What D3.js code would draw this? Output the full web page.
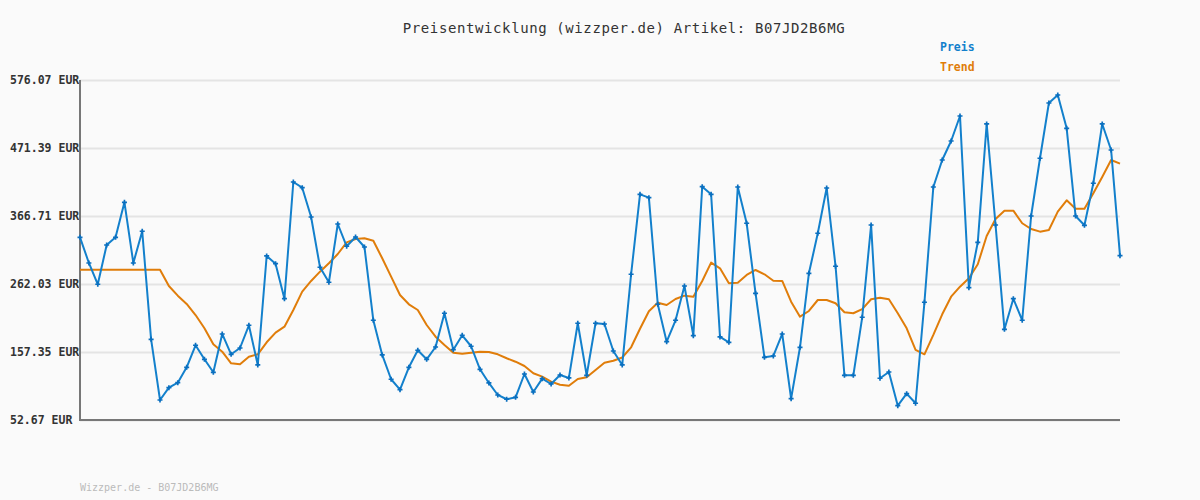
<!DOCTYPE html>
<html>
<head>
<meta charset="utf-8">
<script src="https://cdn.jsdelivr.net/npm/d3@7"></script>
<style>
  body { margin: 0; background: #fafafa; }
  svg { display: block; }
</style>
</head>
<body>
<div id="chart"></div>
<script>
const title = "Preisentwicklung (wizzper.de) Artikel: B07JD2B6MG";
const footer = "Wizzper.de - B07JD2B6MG";

// Preis (EUR), one value per sample
const preis = [
  333.9, 294.4, 261.6, 322.1, 333.9, 387.8, 294.4, 343.2, 176.9, 83.5,
  102.4, 110.1, 133.8, 167.7, 146.1, 126.1, 185.1, 153.8, 163.5, 198.5,
  137.4, 305.2, 293.3, 239.4, 419.1, 410.3, 365.2, 287.8, 264.7, 354.4,
  320.1, 334.4, 319.0, 206.2, 152.8, 115.4, 99.3, 133.8, 160.0, 146.1,
  165.1, 217.0, 160.9, 183.1, 166.2, 130.7, 109.7, 91.2, 84.6, 87.6,
  123.5, 95.8, 116.3, 108.1, 122.0, 117.4, 201.6, 121.5, 201.6, 200.5,
  158.9, 137.4, 277.0, 400.1, 394.9, 230.8, 173.2, 206.2, 259.0, 182.5,
  411.8, 400.1, 180.5, 172.3, 411.4, 355.5, 247.7, 149.2, 151.2, 185.1,
  85.5, 164.6, 278.5, 340.1, 409.8, 289.3, 121.5, 121.5, 210.8, 352.9,
  116.9, 126.6, 74.7, 93.2, 78.4, 233.9, 411.4, 452.9, 482.2, 520.7,
  256.4, 326.2, 508.4, 352.9, 192.3, 239.4, 206.2, 366.7, 455.6, 540.7,
  553.0, 501.7, 366.7, 352.4, 417.1, 508.4, 468.3, 305.6
];

// Trend (EUR)
const trend = [
  284.1, 284.1, 284.1, 284.1, 284.1, 284.1, 284.1, 284.1, 284.1, 284.1,
  259.0, 244.1, 231.3, 214.3, 193.9, 169.2, 157.8, 140.0, 138.4, 150.1,
  153.8, 172.3, 187.1, 196.3, 222.0, 250.2, 266.7, 281.0, 293.9, 308.2,
  326.2, 331.3, 332.4, 328.7, 301.6, 273.3, 245.1, 230.8, 222.0, 198.9,
  180.9, 168.2, 156.3, 154.8, 156.3, 157.8, 157.4, 153.8, 147.7, 142.4,
  135.8, 124.6, 119.4, 111.7, 107.0, 105.5, 115.8, 118.4, 129.7, 140.9,
  143.8, 148.9, 164.6, 193.1, 220.0, 233.3, 229.7, 239.0, 244.1, 242.5,
  266.7, 294.9, 286.2, 263.1, 264.1, 275.9, 283.6, 277.0, 267.1, 266.7,
  234.8, 211.7, 220.5, 237.4, 237.4, 232.4, 218.5, 217.0, 223.3, 238.5,
  241.0, 238.5, 217.0, 193.9, 160.5, 153.8, 183.6, 215.4, 242.5, 257.9,
  270.8, 292.4, 336.0, 362.1, 374.9, 374.9, 355.5, 346.7, 342.6, 345.2,
  373.4, 390.9, 378.0, 378.0, 401.7, 426.8, 452.9, 447.3
];

const tickValues = [52.67, 157.35, 262.03, 366.71, 471.39, 576.07];
const tickLabels = ["52.67 EUR", "157.35 EUR", "262.03 EUR", "366.71 EUR", "471.39 EUR", "576.07 EUR"];

const seriesNames = ["Preis", "Trend"];
const seriesColors = ["#1380cc", "#e07d0a"];

const width = 1200;
const height = 500;
const margin = { top: 80, right: 80, bottom: 80, left: 80 };

const svg = d3.select("#chart")
  .append("svg")
  .attr("width", width)
  .attr("height", height)
  .style("background", "#fafafa");

const x = d3.scaleLinear()
  .domain([0, preis.length - 1])
  .range([margin.left, width - margin.right]);

const y = d3.scaleLinear()
  .domain([tickValues[0], tickValues[tickValues.length - 1]])
  .range([height - margin.bottom, margin.top]);

// title
svg.append("text")
  .attr("x", 624)
  .attr("y", 33)
  .attr("text-anchor", "middle")
  .attr("font-family", "DejaVu Sans Mono, monospace")
  .attr("font-size", 14)
  .attr("letter-spacing", 0.6)
  .attr("fill", "#333")
  .text(title);

// legend
seriesNames.forEach((name, i) => {
  svg.append("text")
    .attr("x", 940)
    .attr("y", 51 + i * 20)
    .attr("font-family", "DejaVu Sans Mono, monospace")
    .attr("font-size", 11.5)
    .attr("font-weight", "bold")
    .attr("fill", seriesColors[i])
    .text(name);
});

// grid + y labels
const yAxis = svg.append("g")
  .attr("transform", `translate(${margin.left},0)`)
  .call(d3.axisLeft(y)
    .tickValues(tickValues)
    .tickFormat((d, i) => tickLabels[i])
    .tickSize(-(width - margin.left - margin.right))
    .tickPadding(0));

yAxis.select(".domain").remove();
yAxis.selectAll(".tick line")
  .attr("stroke", "#e4e4e4")
  .attr("stroke-width", 2);
yAxis.selectAll(".tick text")
  .attr("x", -70)
  .attr("text-anchor", "start")
  .attr("font-family", "DejaVu Sans Mono, monospace")
  .attr("font-size", 11.5)
  .attr("font-weight", "bold")
  .attr("fill", "#333");

// axis lines
svg.append("line")
  .attr("x1", margin.left).attr("x2", margin.left)
  .attr("y1", margin.top).attr("y2", height - margin.bottom + 1)
  .attr("stroke", "#777").attr("stroke-width", 2);
svg.append("line")
  .attr("x1", margin.left - 1).attr("x2", width - margin.right)
  .attr("y1", height - margin.bottom).attr("y2", height - margin.bottom)
  .attr("stroke", "#777").attr("stroke-width", 2);

const line = d3.line()
  .x((d, i) => x(i))
  .y(d => y(d));

svg.append("path")
  .datum(trend)
  .attr("fill", "none")
  .attr("stroke", seriesColors[1])
  .attr("stroke-width", 2)
  .attr("stroke-linejoin", "round")
  .attr("d", line);

svg.append("path")
  .datum(preis)
  .attr("fill", "none")
  .attr("stroke", seriesColors[0])
  .attr("stroke-width", 2)
  .attr("stroke-linejoin", "round")
  .attr("d", line);

svg.selectAll(".point")
  .data(preis)
  .enter()
  .append("path")
  .attr("class", "point")
  .attr("transform", (d, i) => `translate(${x(i)},${y(d)})`)
  .attr("d", d3.symbol().type(d3.symbolCross).size(14))
  .attr("fill", "#0a6fbf");

// footer
svg.append("text")
  .attr("x", 80)
  .attr("y", 491)
  .attr("font-family", "DejaVu Sans Mono, monospace")
  .attr("font-size", 10)
  .attr("fill", "#bbb")
  .text(footer);
</script>
</body>
</html>
